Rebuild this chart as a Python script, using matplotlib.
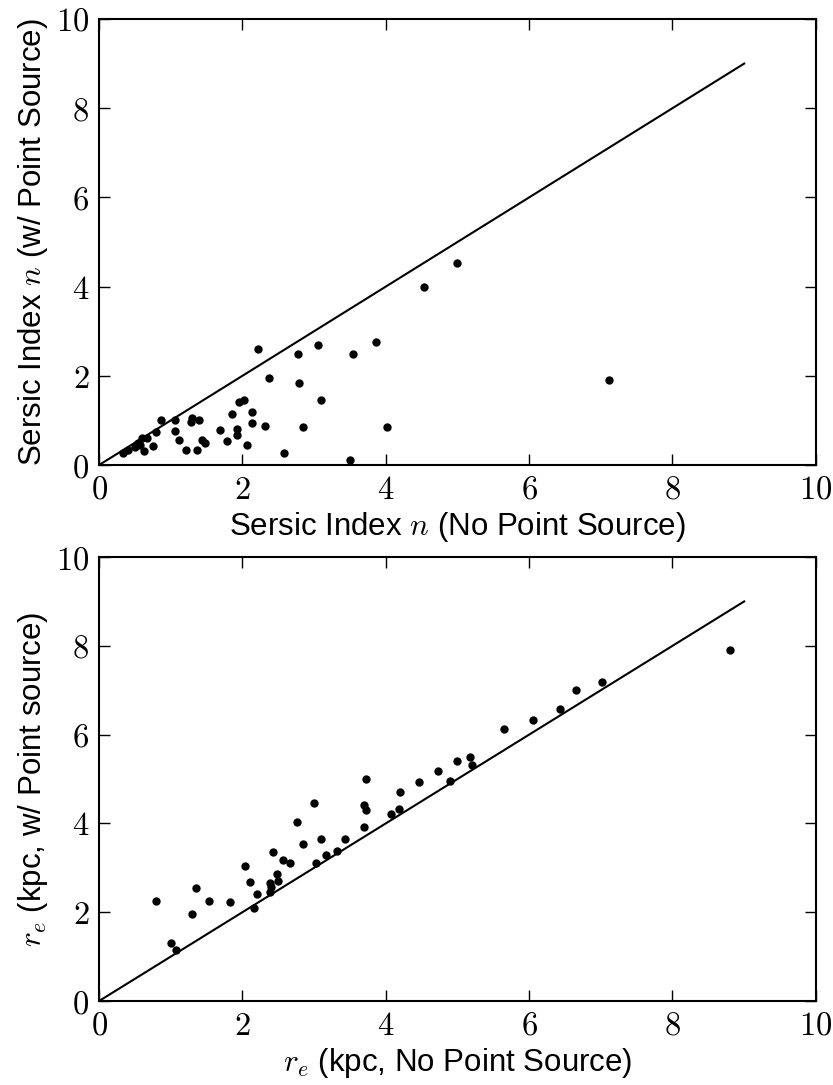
import numpy as np
import matplotlib.pyplot as plt

plt.rcParams['mathtext.fontset'] = 'cm'
plt.rcParams['font.family'] = ['Liberation Sans', 'DejaVu Sans']

# Sersic index, without / with point source
n_nops = [0.33, 0.40, 0.50, 0.55, 0.57, 0.60, 0.63, 0.67, 0.75, 0.80, 0.87,
          1.06, 1.06, 1.11, 1.22, 1.28, 1.30, 1.37, 1.39, 1.43, 1.48, 1.69,
          1.79, 1.86, 1.92, 1.93, 1.95, 2.02, 2.06, 2.13, 2.14, 2.22, 2.31,
          2.37, 2.58, 2.77, 2.79, 2.85, 3.06, 3.09, 3.50, 3.54, 3.87, 4.02,
          4.54, 5.00, 7.12]
n_ps = [0.28, 0.33, 0.41, 0.49, 0.45, 0.60, 0.32, 0.60, 0.43, 0.73, 1.02,
        1.02, 0.77, 0.55, 0.34, 0.96, 1.06, 0.34, 1.01, 0.55, 0.50, 0.78,
        0.53, 1.14, 0.67, 0.80, 1.42, 1.46, 0.45, 1.18, 0.95, 2.61, 0.88,
        1.96, 0.28, 2.48, 1.84, 0.86, 2.69, 1.45, 0.12, 2.48, 2.76, 0.85,
        4.00, 4.54, 1.91]

# effective radius (kpc), without / with point source
re_nops = [0.79, 1.00, 1.07, 1.29, 1.35, 1.54, 1.82, 2.03, 2.10, 2.16, 2.20,
           2.38, 2.39, 2.40, 2.42, 2.48, 2.50, 2.57, 2.66, 2.76, 2.84, 3.00,
           3.02, 3.10, 3.16, 3.32, 3.43, 3.69, 3.70, 3.72, 3.73, 4.08, 4.18,
           4.20, 4.47, 4.73, 4.89, 4.99, 5.18, 5.20, 5.65, 6.06, 6.43, 6.66,
           7.01, 8.80]
re_ps = [2.25, 1.30, 1.14, 1.97, 2.55, 2.25, 2.24, 3.04, 2.69, 2.09, 2.41,
         2.45, 2.66, 2.56, 3.35, 2.85, 2.70, 3.18, 3.11, 4.04, 3.54, 4.46,
         3.10, 3.65, 3.30, 3.39, 3.65, 3.93, 4.42, 4.30, 5.00, 4.22, 4.32,
         4.71, 4.93, 5.19, 4.96, 5.40, 5.50, 5.32, 6.13, 6.32, 6.58, 7.01,
         7.18, 7.91]

ticks = [0, 2, 4, 6, 8, 10]
tick_labels = ['$%d$' % t for t in ticks]

fig = plt.figure(figsize=(8.33, 10.85), dpi=100)
ax1 = fig.add_axes([0.1189, 0.5714, 0.8605, 0.4111])
ax2 = fig.add_axes([0.1189, 0.0774, 0.8605, 0.4092])

def style(ax):
    ax.set_xlim(0, 10)
    ax.set_ylim(0, 10)
    ax.set_xticks(ticks)
    ax.set_yticks(ticks)
    ax.set_xticklabels(tick_labels)
    ax.set_yticklabels(tick_labels)
    ax.tick_params(direction='in', length=8, width=1, labelsize=23.5,
                   top=True, right=True, pad=7)
    for s in ax.spines.values():
        s.set_linewidth(1.5)
    ax.plot([0, 9], [0, 9], color='black', lw=1.5)

style(ax1)
ax1.plot(n_nops, n_ps, 'o', color='black', markersize=5, clip_on=False)
ax1.set_xlabel('Sersic Index $n$ (No Point Source)', fontsize=22.5, labelpad=3)
ax1.set_ylabel('Sersic Index $n$ (w/ Point Source)', fontsize=22.5, labelpad=4)

style(ax2)
ax2.plot(re_nops, re_ps, 'o', color='black', markersize=5, clip_on=False)
ax2.set_xlabel('$r_e$ (kpc, No Point Source)', fontsize=22.5, labelpad=3)
ax2.set_ylabel('$r_e$ (kpc, w/ Point source)', fontsize=22.5, labelpad=4)

fig.savefig('out.png', dpi=100)
